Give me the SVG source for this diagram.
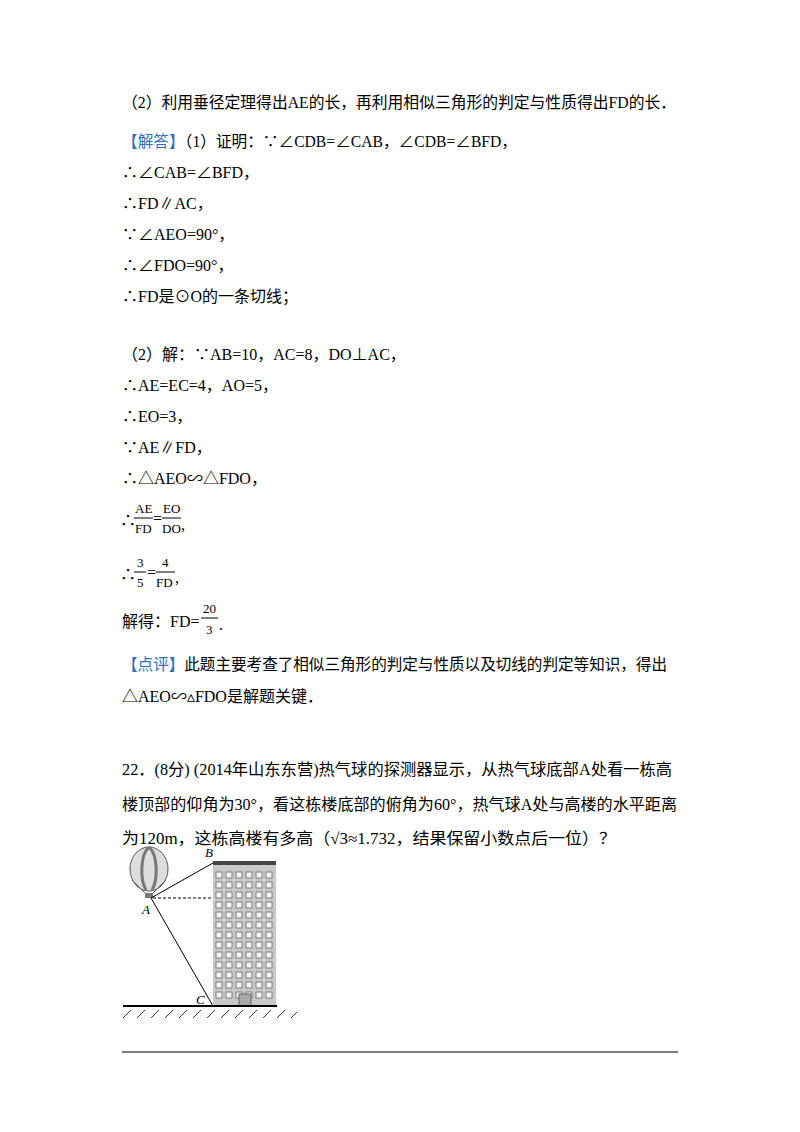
<svg xmlns="http://www.w3.org/2000/svg" width="800" height="1132" viewBox="0 0 800 1132">
<style>
text{font-family:"Liberation Serif","Noto Sans CJK SC",serif;font-size:16px;fill:#000}
.b{fill:#2e6fc0}
.s{font-size:13px}
.it{font-style:italic;font-size:13px}
.w{fill:#f4f4f4;stroke:#666;stroke-width:0.8}
</style>
<rect width="800" height="1132" fill="#fff"/>
<text x="122" y="108" textLength="554" lengthAdjust="spacingAndGlyphs">（2）利用垂径定理得出AE的长，再利用相似三角形的判定与性质得出FD的长．</text>
<text x="122" y="147" textLength="395" lengthAdjust="spacingAndGlyphs"><tspan class="b">【解答】</tspan>（1）证明：∵∠CDB=∠CAB，∠CDB=∠BFD，</text>
<text x="122" y="178">∴∠CAB=∠BFD，</text>
<text x="122" y="209">∴FD∥AC，</text>
<text x="122" y="240">∵∠AEO=90°，</text>
<text x="122" y="271">∴∠FDO=90°，</text>
<text x="122" y="302">∴FD是⊙O的一条切线；</text>
<text x="122" y="360">（2）解：∵AB=10，AC=8，DO⊥AC，</text>
<text x="122" y="391">∴AE=EC=4，AO=5，</text>
<text x="122" y="422">∴EO=3，</text>
<text x="122" y="453">∵AE∥FD，</text>
<text x="122" y="484">∴△AEO∽△FDO，</text>
<text x="120" y="526">∴</text>
<text class="s" x="135" y="513">AE</text><line x1="134" y1="518" x2="153" y2="518" stroke="#000"/><text class="s" x="135" y="533">FD</text>
<text x="153" y="524">=</text>
<text class="s" x="163" y="513">EO</text><line x1="162" y1="518" x2="181" y2="518" stroke="#000"/><text class="s" x="162" y="533">DO</text><text x="181" y="530">,</text>
<text x="120" y="580">∴</text>
<text class="s" x="137" y="567">3</text><line x1="134" y1="572" x2="146" y2="572" stroke="#000"/><text class="s" x="137" y="587">5</text>
<text x="147" y="578">=</text>
<text class="s" x="162" y="567">4</text><line x1="156" y1="572" x2="175" y2="572" stroke="#000"/><text class="s" x="156" y="587">FD</text><text x="175" y="583">,</text>
<text x="122" y="627">解得：FD=</text>
<text class="s" x="203" y="613">20</text><line x1="201" y1="618" x2="218" y2="618" stroke="#000"/><text class="s" x="206" y="634">3</text><text x="219" y="630">.</text>
<text x="122" y="670" textLength="545" lengthAdjust="spacingAndGlyphs"><tspan class="b">【点评】</tspan>此题主要考查了相似三角形的判定与性质以及切线的判定等知识，得出</text>
<text x="122" y="702">△AEO∽▵FDO是解题关键．</text>
<text x="122" y="775" textLength="550" lengthAdjust="spacingAndGlyphs">22．(8分) (2014年山东东营)热气球的探测器显示，从热气球底部A处看一栋高</text>
<text x="122" y="810" textLength="555" lengthAdjust="spacingAndGlyphs">楼顶部的仰角为30°，看这栋楼底部的俯角为60°，热气球A处与高楼的水平距离</text>
<text x="122" y="844" textLength="494" lengthAdjust="spacingAndGlyphs">为120m，这栋高楼有多高（√3≈1.732，结果保留小数点后一位）？</text>
<g id="figure">
<rect x="213" y="863" width="63" height="143" fill="#c9c9c9"/>
<rect x="213" y="861" width="63" height="4" fill="#444"/>
<g id="windows">
<g id="col">
<rect class="w" x="216" y="872" width="6" height="6"/><rect class="w" x="216" y="882" width="6" height="6"/><rect class="w" x="216" y="892" width="6" height="6"/><rect class="w" x="216" y="902" width="6" height="6"/><rect class="w" x="216" y="912" width="6" height="6"/><rect class="w" x="216" y="922" width="6" height="6"/><rect class="w" x="216" y="932" width="6" height="6"/><rect class="w" x="216" y="942" width="6" height="6"/><rect class="w" x="216" y="952" width="6" height="6"/><rect class="w" x="216" y="962" width="6" height="6"/><rect class="w" x="216" y="972" width="6" height="6"/><rect class="w" x="216" y="982" width="6" height="6"/><rect class="w" x="216" y="992" width="6" height="6"/>
</g>
<use href="#col" x="10"/><use href="#col" x="20"/><use href="#col" x="30"/><use href="#col" x="40"/><use href="#col" x="50"/>
</g>
<rect x="239" y="994" width="12" height="12" fill="#aaa" stroke="#555" stroke-width="0.8"/>
<line x1="123" y1="1006" x2="277" y2="1006" stroke="#000" stroke-width="1.8"/>
<g stroke="#000" stroke-width="0.8">
<line x1="123" y1="1018" x2="131" y2="1010"/><line x1="137" y1="1018" x2="145" y2="1010"/><line x1="151" y1="1018" x2="159" y2="1010"/><line x1="165" y1="1018" x2="173" y2="1010"/><line x1="179" y1="1018" x2="187" y2="1010"/><line x1="193" y1="1018" x2="201" y2="1010"/><line x1="207" y1="1018" x2="215" y2="1010"/><line x1="221" y1="1018" x2="229" y2="1010"/><line x1="235" y1="1018" x2="243" y2="1010"/><line x1="249" y1="1018" x2="257" y2="1010"/><line x1="263" y1="1018" x2="271" y2="1010"/><line x1="277" y1="1018" x2="285" y2="1010"/><line x1="291" y1="1018" x2="297" y2="1012"/>
</g>
<g id="balloon">
<ellipse cx="149" cy="869" rx="19" ry="22" fill="#ddd" stroke="#555"/>
<path d="M149 847 C140 855 140 880 146 890 M149 847 C158 855 158 880 152 890" fill="none" stroke="#777" stroke-width="3"/>
<path d="M132 880 L145 893 M166 880 L153 893" stroke="#555"/>
<rect x="145" y="893" width="8" height="5" fill="#777"/>
</g>
<g id="connectors" stroke="#000" fill="none">
<line x1="151" y1="898" x2="213" y2="863"/>
<line x1="151" y1="898" x2="213" y2="1006"/>
<line x1="153" y1="898" x2="213" y2="898" stroke-dasharray="3,2"/>
</g>
<text class="it" x="205" y="857">B</text>
<text class="it" x="142" y="914">A</text>
<text class="it" x="196" y="1004">C</text>
</g>
<line x1="122" y1="1052" x2="678" y2="1052" stroke="#000"/>
</svg>
